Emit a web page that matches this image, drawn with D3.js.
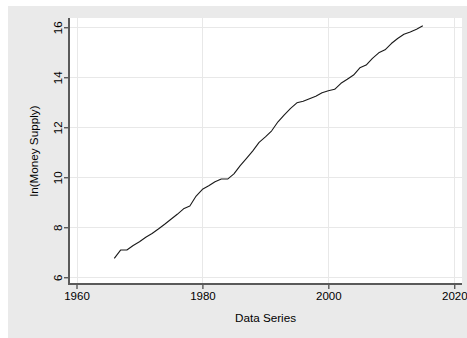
<!DOCTYPE html>
<html>
<head>
<meta charset="utf-8">
<script src="https://cdn.jsdelivr.net/npm/d3@7"></script>
<style>
  html, body { margin: 0; padding: 0; background: #ffffff; }
  svg { display: block; }
  text { font-family: "Liberation Sans", Arial, sans-serif; fill: #000; }
</style>
</head>
<body>
<svg id="chart" width="467" height="338"></svg>
<script>
// Annual log money supply series
const years = [
  1966, 1967, 1968, 1969, 1970, 1971, 1972, 1973, 1974, 1975,
  1976, 1977, 1978, 1979, 1980, 1981, 1982, 1983, 1984, 1985,
  1986, 1987, 1988, 1989, 1990, 1991, 1992, 1993, 1994, 1995,
  1996, 1997, 1998, 1999, 2000, 2001, 2002, 2003, 2004, 2005,
  2006, 2007, 2008, 2009, 2010, 2011, 2012, 2013, 2014, 2015
];
const lnMoney = [
  6.76, 7.09, 7.09, 7.27, 7.42, 7.60, 7.75, 7.93, 8.12, 8.32,
  8.52, 8.74, 8.85, 9.25, 9.52, 9.66, 9.82, 9.93, 9.93, 10.14,
  10.47, 10.76, 11.06, 11.40, 11.62, 11.86, 12.22, 12.50, 12.76, 12.98,
  13.04, 13.14, 13.24, 13.38, 13.46, 13.52, 13.76, 13.92, 14.09, 14.38,
  14.49, 14.76, 14.98, 15.10, 15.35, 15.55, 15.72, 15.81, 15.92, 16.06
];
const xTicks = [1960, 1980, 2000, 2020];
const yTicks = [6, 8, 10, 12, 14, 16];
const xTitle = "Data Series";
const yTitle = "ln(Money Supply)";

const svg = d3.select("#chart");

// Outer graph region
svg.append("rect")
  .attr("x", 8).attr("y", 6)
  .attr("width", 459).attr("height", 332)
  .attr("fill", "#eaeaea");

// Plot region
const plot = { left: 69, right: 462, top: 18, bottom: 284 };
svg.append("rect")
  .attr("x", plot.left).attr("y", plot.top)
  .attr("width", plot.right - plot.left)
  .attr("height", plot.bottom - plot.top)
  .attr("fill", "#ffffff");

const x = d3.scaleLinear().domain([1960, 2020]).range([76.5, 454.3]);
const y = d3.scaleLinear().domain([6, 16]).range([277.3, 27.3]);

// Grid lines
const grid = svg.append("g").attr("stroke", "#e8e8e8").attr("stroke-width", 1);
grid.selectAll("line.gx").data(xTicks).join("line")
  .attr("class", "gx")
  .attr("x1", d => Math.round(x(d)) + 0.5).attr("x2", d => Math.round(x(d)) + 0.5)
  .attr("y1", plot.top).attr("y2", plot.bottom);
grid.selectAll("line.gy").data(yTicks).join("line")
  .attr("class", "gy")
  .attr("y1", d => Math.round(y(d)) + 0.5).attr("y2", d => Math.round(y(d)) + 0.5)
  .attr("x1", plot.left).attr("x2", plot.right);

// Series line
const line = d3.line()
  .x((d, i) => x(years[i]))
  .y(d => y(d));
svg.append("path")
  .datum(lnMoney)
  .attr("d", line)
  .attr("fill", "none")
  .attr("stroke", "#1a1a1a")
  .attr("stroke-width", 1.1)
  .attr("stroke-linejoin", "round");

// Axes
const xAxis = d3.axisBottom(x).tickValues(xTicks).tickFormat(d3.format("d"))
  .tickSize(5).tickPadding(3);
const gx = svg.append("g")
  .attr("transform", `translate(0,${plot.bottom})`)
  .call(xAxis);
gx.select(".domain").remove();
gx.selectAll(".tick line").attr("stroke", "#222").attr("stroke-width", 1);
gx.selectAll(".tick text")
  .attr("font-size", 11.5)
  .attr("font-family", "Liberation Sans, Arial, sans-serif")
  .attr("fill", "#000");
svg.append("line")
  .attr("x1", plot.left - 1).attr("x2", plot.right)
  .attr("y1", plot.bottom).attr("y2", plot.bottom)
  .attr("stroke", "#5a5a5a").attr("stroke-width", 2);

const yAxis = d3.axisLeft(y).tickValues(yTicks).tickFormat(d3.format("d"))
  .tickSize(5).tickPadding(3);
const gy = svg.append("g")
  .attr("transform", `translate(${plot.left},0)`)
  .call(yAxis);
gy.select(".domain").remove();
gy.selectAll(".tick line").attr("stroke", "#222").attr("stroke-width", 1);
// vertical tick labels, read bottom to top, centred on each tick
gy.selectAll(".tick text")
  .attr("font-size", 11.5)
  .attr("font-family", "Liberation Sans, Arial, sans-serif")
  .attr("fill", "#000")
  .attr("text-anchor", "middle")
  .attr("dy", 0)
  .attr("x", 0)
  .attr("y", -7)
  .attr("transform", "rotate(-90)");
svg.append("line")
  .attr("x1", plot.left).attr("x2", plot.left)
  .attr("y1", plot.top).attr("y2", plot.bottom + 1)
  .attr("stroke", "#5a5a5a").attr("stroke-width", 2);

// Axis titles
svg.append("text")
  .attr("x", (plot.left + plot.right) / 2)
  .attr("y", 322)
  .attr("text-anchor", "middle")
  .attr("font-size", 11.7)
  .text(xTitle);
svg.append("text")
  .attr("transform", `translate(38,${(plot.top + plot.bottom) / 2}) rotate(-90)`)
  .attr("text-anchor", "middle")
  .attr("font-size", 11.7)
  .text(yTitle);
</script>
</body>
</html>
